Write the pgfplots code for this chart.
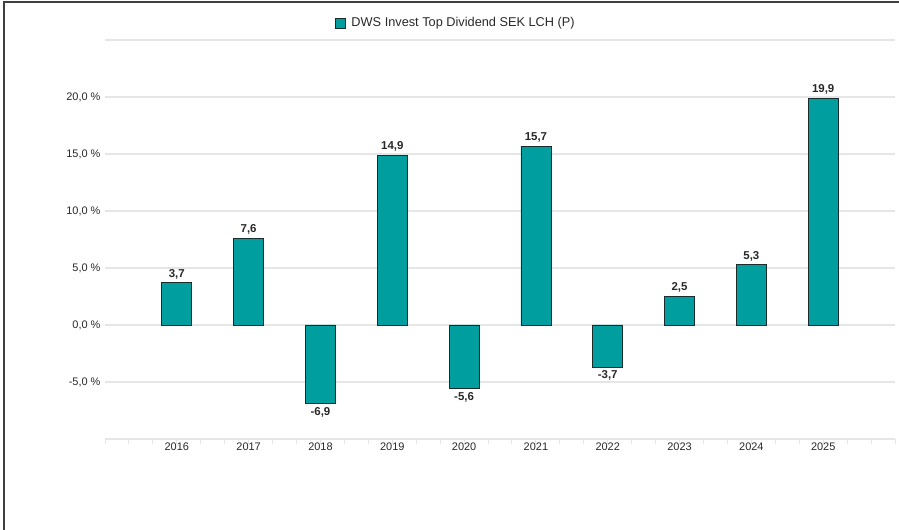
\documentclass[border=0pt]{standalone}
\usepackage{pgfplots}
\pgfplotsset{compat=1.18}
\usepackage{fontspec}
\setmainfont{Liberation Sans}
\definecolor{barteal}{RGB}{0,158,158}
\definecolor{baredge}{RGB}{25,45,45}
\definecolor{txt}{RGB}{40,40,40}
\definecolor{gridc}{RGB}{230,230,230}
\begin{document}
\begin{tikzpicture}[x=1bp,y=1bp]
\useasboundingbox (0,0) rectangle (899,530);
\draw[line width=1.5bp, black!75] (4,0) -- (4,528) -- (899,528);
\begin{axis}[
  at={(105bp,91bp)}, anchor=south west,
  scale only axis, width=790bp, height=399bp,
  xmin=-1, xmax=10, ymin=-10, ymax=25,
  xtick={-1,0,...,10},
  xticklabels={,2016,2017,2018,2019,2020,2021,2022,2023,2024,2025,},
  minor x tick num=2,
  ytick={-5,0,5,10,15,20,25},
  yticklabels={{-5,0 \%},{0,0 \%},{5,0 \%},{10,0 \%},{15,0 \%},{20,0 \%},{}},
  ymajorgrids, grid style={gridc, line width=1.2bp},
  separate axis lines,
  x axis line style={draw=gridc, line width=2bp},
  y axis line style={draw=none},
  axis line style={-},
  tick align=outside,
  xtick pos=bottom, ytick pos=left,
  major x tick style={draw=gridc, line width=1bp},
  minor x tick style={draw=gridc, line width=1bp},
  major tick length=5bp, minor tick length=5bp,
  ytick style={draw=none},
  tick label style={font=\fontsize{11}{13}\selectfont, text=txt},
  xticklabel style={yshift=5bp},
  yticklabel style={xshift=4bp},
  legend style={at={(0.2911,1.0426)}, anchor=west, draw=none, fill=none,
     font=\fontsize{12.8}{15}\selectfont, text=txt, inner sep=0pt, nodes={inner sep=0pt}},
  legend image code/.code={\draw[fill=barteal, draw=baredge, line width=0.8bp] (0bp,-5bp) rectangle (10bp,5bp); \path (15.5bp,0bp);},
  nodes near coords,
  nodes near coords align={vertical},
  every node near coord/.append style={font=\bfseries\fontsize{11.5}{13}\selectfont, text=txt,
     /pgf/number format/.cd, assume math mode=true, use comma, fixed, fixed zerofill, precision=1},
]
\addplot[ybar, bar width=30bp, fill=barteal, draw=baredge, line width=0.8bp]
coordinates {(0,3.7) (1,7.6) (2,-6.9) (3,14.9) (4,-5.6) (5,15.7) (6,-3.7) (7,2.5) (8,5.3) (9,19.9)};
\addlegendentry{DWS Invest Top Dividend SEK LCH (P)}
\end{axis}
\end{tikzpicture}
\end{document}
